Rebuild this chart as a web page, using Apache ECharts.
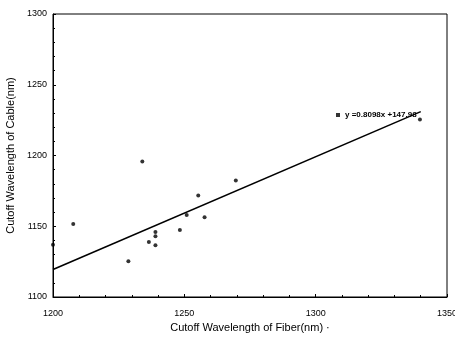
<!DOCTYPE html>
<html><head><meta charset="utf-8">
<script src="https://cdn.jsdelivr.net/npm/echarts@6/dist/echarts.min.js"></script>
<style>html,body{margin:0;padding:0;background:#fff}#c{width:455px;height:340px}</style>
</head><body><div id="c"></div>
<script>
const fiberX = [1200, 1207.7, 1228.7, 1234, 1236.5, 1239, 1239, 1239, 1248.3, 1250.9, 1255.3, 1257.7, 1269.6, 1339.7];
const cableY = [1137, 1151.6, 1125.3, 1195.7, 1138.8, 1146, 1143, 1136.5, 1147.3, 1158, 1171.8, 1156.3, 1182.3, 1225.5];
const fitX = [1200, 1340];
const fitY = [1119.5, 1231];
const xTicks = [1200, 1250, 1300, 1350];
const yTicks = [1100, 1150, 1200, 1250, 1300];
const eqLabel = 'y =0.8098x +147.98';

const pts = fiberX.map((x, i) => [x, cableY[i]]);
const fit = fitX.map((x, i) => [x, fitY[i]]);
const font = 'Liberation Sans, Arial, sans-serif';

const chart = echarts.init(document.getElementById('c'));
chart.setOption({
  animation: false,
  backgroundColor: '#fff',
  grid: {left: 53, right: 8, top: 14, bottom: 43, show: true, borderColor: '#000', borderWidth: 1,
         containLabel: false, outerBoundsMode: 'none'},
  legend: {
    left: 331, top: 106, data: [{name: eqLabel, icon: 'rect'}],
    itemWidth: 4, itemHeight: 4, itemGap: 5,
    textStyle: {fontSize: 8, fontWeight: 'bold', color: '#000', fontFamily: font}
  },
  xAxis: {
    type: 'value', min: xTicks[0], max: xTicks[xTicks.length - 1], interval: 50,
    name: 'Cutoff Wavelength of Fiber(nm) ·', nameLocation: 'middle', nameGap: 23,
    nameTextStyle: {fontSize: 11, color: '#000', fontFamily: font},
    axisLine: {lineStyle: {color: '#000', width: 1}},
    axisTick: {inside: true, length: 3, lineStyle: {color: '#000'}},
    minorTick: {show: true, splitNumber: 5, length: 2, lineStyle: {color: '#000'}},
    splitLine: {show: false},
    axisLabel: {fontSize: 9, color: '#000', margin: 12, fontFamily: font, formatter: v => String(v)}
  },
  yAxis: {
    type: 'value', min: yTicks[0], max: yTicks[yTicks.length - 1], interval: 50,
    name: 'Cutoff Wavelength of Cable(nm)', nameLocation: 'middle', nameGap: 33,
    nameTextStyle: {fontSize: 11, color: '#000', fontFamily: font},
    axisLine: {lineStyle: {color: '#000', width: 1}},
    axisTick: {inside: true, length: 3, lineStyle: {color: '#000'}},
    minorTick: {show: true, splitNumber: 5, length: 2, lineStyle: {color: '#000'}},
    splitLine: {show: false},
    axisLabel: {fontSize: 9, color: '#000', margin: 6, fontFamily: font, formatter: v => String(v)}
  },
  series: [
    {name: eqLabel, type: 'scatter', data: pts, symbol: 'circle', symbolSize: 4,
     itemStyle: {color: '#000'}},
    {name: 'fit', type: 'line', data: fit, showSymbol: false, symbol: 'none',
     lineStyle: {color: '#000', width: 1.6}}
  ]
});
</script></body></html>
